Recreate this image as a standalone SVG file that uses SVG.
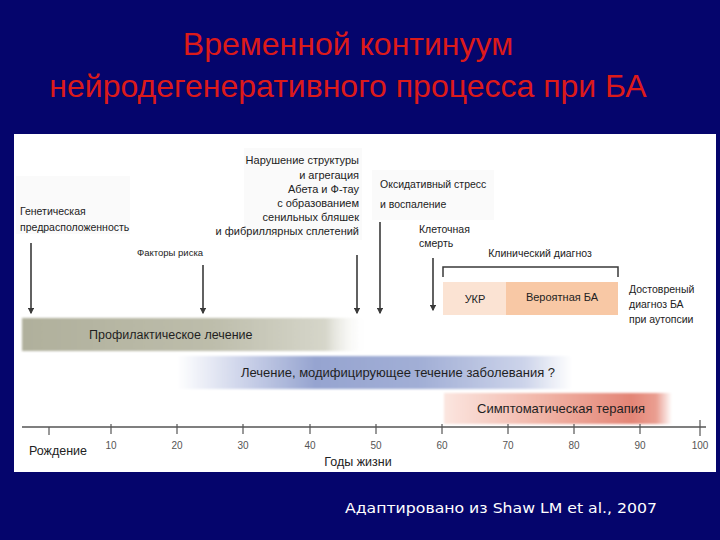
<svg xmlns="http://www.w3.org/2000/svg" width="720" height="540" viewBox="0 0 720 540">
<defs>
<style>
.title{font-family:"Liberation Sans",Arial,sans-serif;font-size:32px;fill:#dc1a1a;text-anchor:middle}
.lbl{font-family:"Liberation Sans",Arial,sans-serif;font-size:10.5px;fill:#222}
.bar{font-family:"Liberation Sans",Arial,sans-serif;font-size:13px;fill:#1f1f1f}
.tick{font-family:"Liberation Sans",Arial,sans-serif;font-size:10px;fill:#555;text-anchor:middle}
.ax{font-family:"Liberation Sans",Arial,sans-serif;font-size:12.5px;fill:#222}
.arrow{stroke:#3a3a3a;stroke-width:1.6;fill:none;marker-end:url(#ah)}
.faint{fill:#fafafa}
</style>
<marker id="ah" viewBox="0 0 10 10" refX="8" refY="5" markerWidth="4" markerHeight="4" orient="auto" markerUnits="strokeWidth">
<path d="M0,0 L10,5 L0,10 z" fill="#3a3a3a"/>
</marker>
<linearGradient id="gProph" x1="0" x2="1" y1="0" y2="0">
<stop offset="0" stop-color="#b0b09c"/>
<stop offset="0.55" stop-color="#bdbdab"/>
<stop offset="0.88" stop-color="#d6d6ca"/>
<stop offset="1" stop-color="#ffffff" stop-opacity="0"/>
</linearGradient>
<linearGradient id="gBlue" x1="0" x2="1" y1="0" y2="0">
<stop offset="0" stop-color="#ffffff"/>
<stop offset="0.18" stop-color="#c9d0e8"/>
<stop offset="0.35" stop-color="#96a4d0"/>
<stop offset="0.62" stop-color="#a2afd6"/>
<stop offset="0.88" stop-color="#cdd4ea"/>
<stop offset="1" stop-color="#ffffff"/>
</linearGradient>
<linearGradient id="gRed" x1="0" x2="1" y1="0" y2="0">
<stop offset="0" stop-color="#fbe6e0"/>
<stop offset="0.4" stop-color="#f2b8ab"/>
<stop offset="0.82" stop-color="#e38576"/>
<stop offset="0.93" stop-color="#ea9e91"/>
<stop offset="1" stop-color="#ffffff"/>
</linearGradient>
<filter id="soft" x="-5%" y="-20%" width="110%" height="140%">
<feGaussianBlur stdDeviation="1.2"/>
</filter>
</defs>

<rect x="0" y="0" width="720" height="540" fill="#05056c"/>

<g id="title">
<text class="title" x="348" y="55">Временной континуум</text>
<text class="title" x="348" y="97">нейродегенеративного процесса при БА</text>
</g>

<rect id="panel" x="14" y="134" width="702" height="338" fill="#ffffff"/>

<g id="faint-boxes">
<rect class="faint" x="16" y="176" width="114" height="58"/>
<rect class="faint" x="244" y="148" width="118" height="92"/>
<rect class="faint" x="372" y="170" width="122" height="50"/>
</g>

<g id="genetic">
<text class="lbl" x="20" y="215">Генетическая</text>
<text class="lbl" x="20" y="231">предрасположенность</text>
</g>

<g id="risk">
<text class="lbl" x="137" y="256" style="font-size:9.5px">Факторы риска</text>
</g>

<g id="amyloid">
<text class="lbl" x="359" y="164" text-anchor="end" style="font-size:11px">Нарушение структуры</text>
<text class="lbl" x="359" y="179" text-anchor="end" style="font-size:11px">и агрегация</text>
<text class="lbl" x="359" y="193" text-anchor="end" style="font-size:11px">Абета и Ф-тау</text>
<text class="lbl" x="359" y="207" text-anchor="end" style="font-size:11px">с образованием</text>
<text class="lbl" x="359" y="221" text-anchor="end" style="font-size:11px">сенильных бляшек</text>
<text class="lbl" x="359" y="235" text-anchor="end" style="font-size:11px">и фибриллярных сплетений</text>
</g>

<g id="oxidative">
<text class="lbl" x="380" y="188">Оксидативный стресс</text>
<text class="lbl" x="380" y="208">и воспаление</text>
</g>

<g id="celldeath">
<text class="lbl" x="419" y="233">Клеточная</text>
<text class="lbl" x="419" y="247">смерть</text>
</g>

<g id="clinical">
<text class="lbl" x="540" y="257" text-anchor="middle">Клинический диагноз</text>
<path d="M443,277 V267 H618 V277" stroke="#3a3a3a" stroke-width="1.5" fill="none"/>
<rect x="443" y="282" width="63" height="33" fill="#fbe3d3"/>
<rect x="506" y="282" width="112" height="33" fill="#f8c8a5"/>
<text class="lbl" x="475" y="303" text-anchor="middle" style="font-size:11px">УКР</text>
<text class="lbl" x="562" y="301" text-anchor="middle" style="font-size:11px">Вероятная БА</text>
</g>

<g id="autopsy">
<text class="lbl" x="629" y="293">Достовреный</text>
<text class="lbl" x="629" y="308">диагноз БА</text>
<text class="lbl" x="629" y="323">при аутопсии</text>
</g>

<g id="connectors">
<line class="arrow" x1="31" y1="243" x2="31" y2="313"/>
<line class="arrow" x1="203" y1="265" x2="203" y2="313"/>
<line class="arrow" x1="357" y1="255" x2="357" y2="313"/>
<line class="arrow" x1="380" y1="222" x2="380" y2="313"/>
<line class="arrow" x1="433" y1="258" x2="433" y2="310"/>
</g>

<g id="prophylactic">
<rect x="22" y="318" width="345" height="33" fill="url(#gProph)" filter="url(#soft)"/>
<text class="bar" x="89" y="339" style="font-size:12.5px">Профилактическое  лечение</text>
</g>

<g id="modifying">
<rect x="177" y="356" width="395" height="33" fill="url(#gBlue)" filter="url(#soft)"/>
<text class="bar" x="398" y="377" text-anchor="middle">Лечение, модифицирующее течение заболевания  ?</text>
</g>

<g id="symptomatic">
<rect x="444" y="393" width="228" height="31" fill="url(#gRed)" filter="url(#soft)"/>
<text class="bar" x="561" y="413" text-anchor="middle">Симптоматическая терапия</text>
</g>

<g id="axis">
<line x1="22" y1="427" x2="706" y2="427" stroke="#555" stroke-width="1.4"/>
<g stroke="#555" stroke-width="1.2">
<line x1="49" y1="427" x2="49" y2="435"/>
<line x1="111" y1="424" x2="111" y2="434"/>
<line x1="177" y1="424" x2="177" y2="434"/>
<line x1="243" y1="424" x2="243" y2="434"/>
<line x1="310" y1="424" x2="310" y2="434"/>
<line x1="376" y1="424" x2="376" y2="434"/>
<line x1="442" y1="424" x2="442" y2="434"/>
<line x1="508" y1="424" x2="508" y2="434"/>
<line x1="574" y1="424" x2="574" y2="434"/>
<line x1="640" y1="424" x2="640" y2="434"/>
<line x1="700" y1="420" x2="700" y2="436"/>
</g>
<text class="tick" x="111" y="449">10</text>
<text class="tick" x="177" y="449">20</text>
<text class="tick" x="243" y="449">30</text>
<text class="tick" x="310" y="449">40</text>
<text class="tick" x="376" y="449">50</text>
<text class="tick" x="442" y="449">60</text>
<text class="tick" x="508" y="449">70</text>
<text class="tick" x="574" y="449">80</text>
<text class="tick" x="640" y="449">90</text>
<text class="tick" x="700" y="449">100</text>
<text class="ax" x="29" y="455">Рождение</text>
<text class="ax" x="358" y="466" text-anchor="middle">Годы жизни</text>
</g>

<g id="footer">
<text x="345" y="513" font-family="'DejaVu Sans',Verdana,sans-serif" font-size="14" fill="#ffffff" textLength="312" lengthAdjust="spacingAndGlyphs">Адаптировано из Shaw LM et al., 2007</text>
</g>
</svg>
